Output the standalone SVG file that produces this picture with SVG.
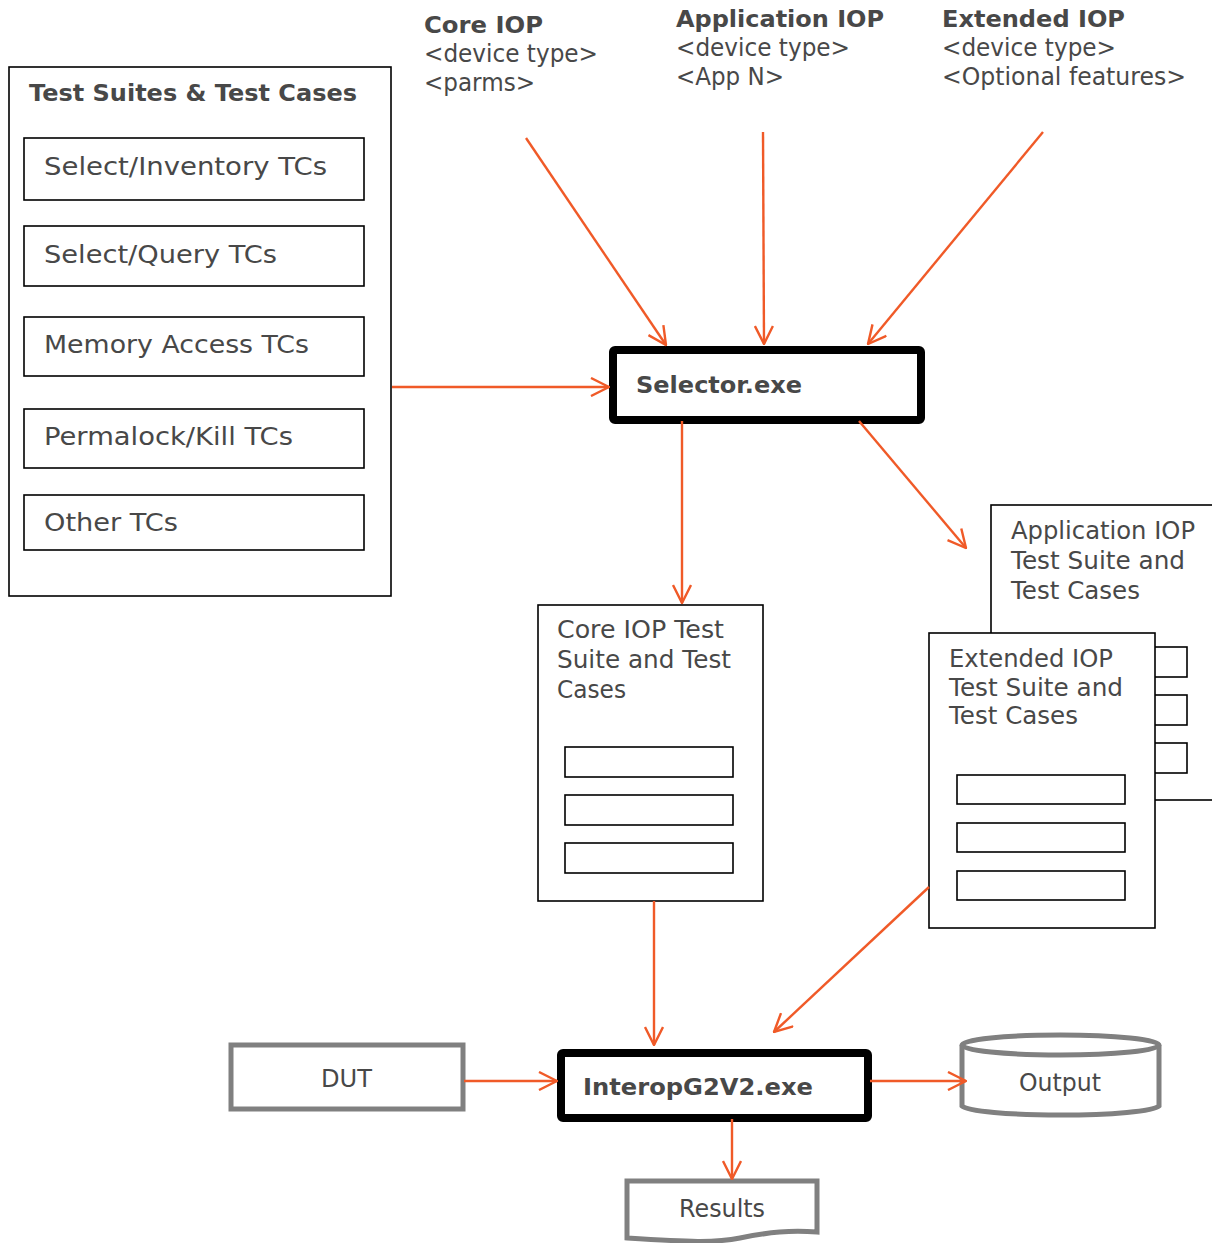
<svg xmlns="http://www.w3.org/2000/svg" width="1212" height="1243" viewBox="0 0 1212 1243">
  <style>
    text { font-family: "DejaVu Sans", Verdana, sans-serif; fill: #484848; }
    .b { font-weight: bold; }
    .t22 { font-size: 23px; }
    .t24 { font-size: 25.5px; }
    .t23 { font-size: 24px; }
    .box { fill: #fff; stroke: #000; stroke-width: 1.6; }
    .exe { fill: #fff; stroke: #000; stroke-width: 8; }
    .io { fill: #fff; stroke: #808080; stroke-width: 5; }
    .con { fill: none; stroke: #f05a28; stroke-width: 2.4; }
  </style>
  <defs>
    <marker id="arr" viewBox="0 0 20 20" refX="19" refY="10" markerWidth="20" markerHeight="20" markerUnits="userSpaceOnUse" orient="auto">
      <path d="M1,1 L19,10 L1,19" fill="none" stroke="#f05a28" stroke-width="2.4"/>
    </marker>
  </defs>
  <rect width="1212" height="1243" fill="#fff"/>

  <!-- inputs to the selector -->
  <g id="core-iop-input">
    <text x="424" y="33" class="b t22" textLength="119" lengthAdjust="spacingAndGlyphs">Core IOP</text>
    <text x="424" y="62" class="t23" textLength="174" lengthAdjust="spacingAndGlyphs">&lt;device type&gt;</text>
    <text x="424" y="91" class="t23" textLength="111" lengthAdjust="spacingAndGlyphs">&lt;parms&gt;</text>
  </g>
  <g id="app-iop-input">
    <text x="676" y="27" class="b t22" textLength="208" lengthAdjust="spacingAndGlyphs">Application IOP</text>
    <text x="676" y="56" class="t23" textLength="174" lengthAdjust="spacingAndGlyphs">&lt;device type&gt;</text>
    <text x="676" y="85" class="t23" textLength="108" lengthAdjust="spacingAndGlyphs">&lt;App N&gt;</text>
  </g>
  <g id="ext-iop-input">
    <text x="942" y="27" class="b t22" textLength="183" lengthAdjust="spacingAndGlyphs">Extended IOP</text>
    <text x="942" y="56" class="t23" textLength="174" lengthAdjust="spacingAndGlyphs">&lt;device type&gt;</text>
    <text x="942" y="85" class="t23" textLength="244" lengthAdjust="spacingAndGlyphs">&lt;Optional features&gt;</text>
  </g>

  <!-- test suite library -->
  <g id="test-suites">
    <rect x="9" y="67" width="382" height="529" class="box"/>
    <text x="29" y="101" class="b t22" textLength="328" lengthAdjust="spacingAndGlyphs">Test Suites &amp; Test Cases</text>
    <rect x="24" y="138" width="340" height="62" class="box"/>
    <text x="44" y="175" class="t24" textLength="283" lengthAdjust="spacingAndGlyphs">Select/Inventory TCs</text>
    <rect x="24" y="226" width="340" height="60" class="box"/>
    <text x="44" y="263" class="t24" textLength="233" lengthAdjust="spacingAndGlyphs">Select/Query TCs</text>
    <rect x="24" y="317" width="340" height="59" class="box"/>
    <text x="44" y="353" class="t24" textLength="265" lengthAdjust="spacingAndGlyphs">Memory Access TCs</text>
    <rect x="24" y="409" width="340" height="59" class="box"/>
    <text x="44" y="445" class="t24" textLength="249" lengthAdjust="spacingAndGlyphs">Permalock/Kill TCs</text>
    <rect x="24" y="495" width="340" height="55" class="box"/>
    <text x="44" y="531" class="t24" textLength="134" lengthAdjust="spacingAndGlyphs">Other TCs</text>
  </g>

  <g id="selector">
    <rect x="613" y="350" width="308" height="70" rx="2" class="exe"/>
    <text x="636" y="393" class="b t22" textLength="166" lengthAdjust="spacingAndGlyphs">Selector.exe</text>
  </g>

  <g id="core-suite">
    <rect x="538" y="605" width="225" height="296" class="box"/>
    <text x="557" y="638" class="t23" textLength="167" lengthAdjust="spacingAndGlyphs">Core IOP Test</text>
    <text x="557" y="668" class="t23" textLength="174" lengthAdjust="spacingAndGlyphs">Suite and Test</text>
    <text x="557" y="698" class="t23" textLength="69" lengthAdjust="spacingAndGlyphs">Cases</text>
    <rect x="565" y="747" width="168" height="30" class="box"/>
    <rect x="565" y="795" width="168" height="30" class="box"/>
    <rect x="565" y="843" width="168" height="30" class="box"/>
  </g>

  <g id="app-suite">
    <rect x="991" y="505" width="240" height="295" class="box"/>
    <text x="1011" y="539" class="t23" textLength="184" lengthAdjust="spacingAndGlyphs">Application IOP</text>
    <text x="1011" y="569" class="t23" textLength="174" lengthAdjust="spacingAndGlyphs">Test Suite and</text>
    <text x="1011" y="599" class="t23" textLength="129" lengthAdjust="spacingAndGlyphs">Test Cases</text>
    <rect x="1019" y="647" width="168" height="30" class="box"/>
    <rect x="1019" y="695" width="168" height="30" class="box"/>
    <rect x="1019" y="743" width="168" height="30" class="box"/>
  </g>

  <g id="ext-suite">
    <rect x="929" y="633" width="226" height="295" class="box"/>
    <text x="949" y="667" class="t23" textLength="164" lengthAdjust="spacingAndGlyphs">Extended IOP</text>
    <text x="949" y="696" class="t23" textLength="174" lengthAdjust="spacingAndGlyphs">Test Suite and</text>
    <text x="949" y="724" class="t23" textLength="129" lengthAdjust="spacingAndGlyphs">Test Cases</text>
    <rect x="957" y="775" width="168" height="29" class="box"/>
    <rect x="957" y="823" width="168" height="29" class="box"/>
    <rect x="957" y="871" width="168" height="29" class="box"/>
  </g>

  <g id="dut">
    <rect x="231" y="1045" width="232" height="64" class="io"/>
    <text x="321" y="1087" class="t23" textLength="51" lengthAdjust="spacingAndGlyphs">DUT</text>
  </g>

  <g id="interop">
    <rect x="561" y="1053" width="307" height="65" rx="2" class="exe"/>
    <text x="583" y="1095" class="b t22" textLength="230" lengthAdjust="spacingAndGlyphs">InteropG2V2.exe</text>
  </g>

  <g id="output">
    <path d="M962,1045 L962,1106 A99,10 0 0 0 1159,1106 L1159,1045" class="io"/>
    <ellipse cx="1060.5" cy="1045" rx="98.5" ry="10" class="io"/>
    <text x="1019" y="1091" class="t23" textLength="82" lengthAdjust="spacingAndGlyphs">Output</text>
  </g>

  <g id="results">
    <path d="M627,1181 L817,1181 L817,1232 C790,1230 770,1232 740,1238 C715,1243 690,1242 627,1238 Z" class="io"/>
    <text x="679" y="1217" class="t23" textLength="86" lengthAdjust="spacingAndGlyphs">Results</text>
  </g>

  <!-- connectors -->
  <g id="connectors">
    <line x1="526" y1="138" x2="666" y2="345" class="con" marker-end="url(#arr)"/>
    <line x1="763" y1="132" x2="764" y2="344" class="con" marker-end="url(#arr)"/>
    <line x1="1043" y1="132" x2="868" y2="344" class="con" marker-end="url(#arr)"/>
    <line x1="392" y1="387" x2="609" y2="387" class="con" marker-end="url(#arr)"/>
    <line x1="682" y1="421" x2="682" y2="603" class="con" marker-end="url(#arr)"/>
    <line x1="859" y1="421" x2="966" y2="548" class="con" marker-end="url(#arr)"/>
    <line x1="654" y1="901" x2="654" y2="1045" class="con" marker-end="url(#arr)"/>
    <line x1="929" y1="887" x2="774" y2="1032" class="con" marker-end="url(#arr)"/>
    <line x1="464" y1="1081" x2="557" y2="1081" class="con" marker-end="url(#arr)"/>
    <line x1="870" y1="1081" x2="966" y2="1081" class="con" marker-end="url(#arr)"/>
    <line x1="732" y1="1119" x2="732" y2="1179" class="con" marker-end="url(#arr)"/>
  </g>
</svg>
